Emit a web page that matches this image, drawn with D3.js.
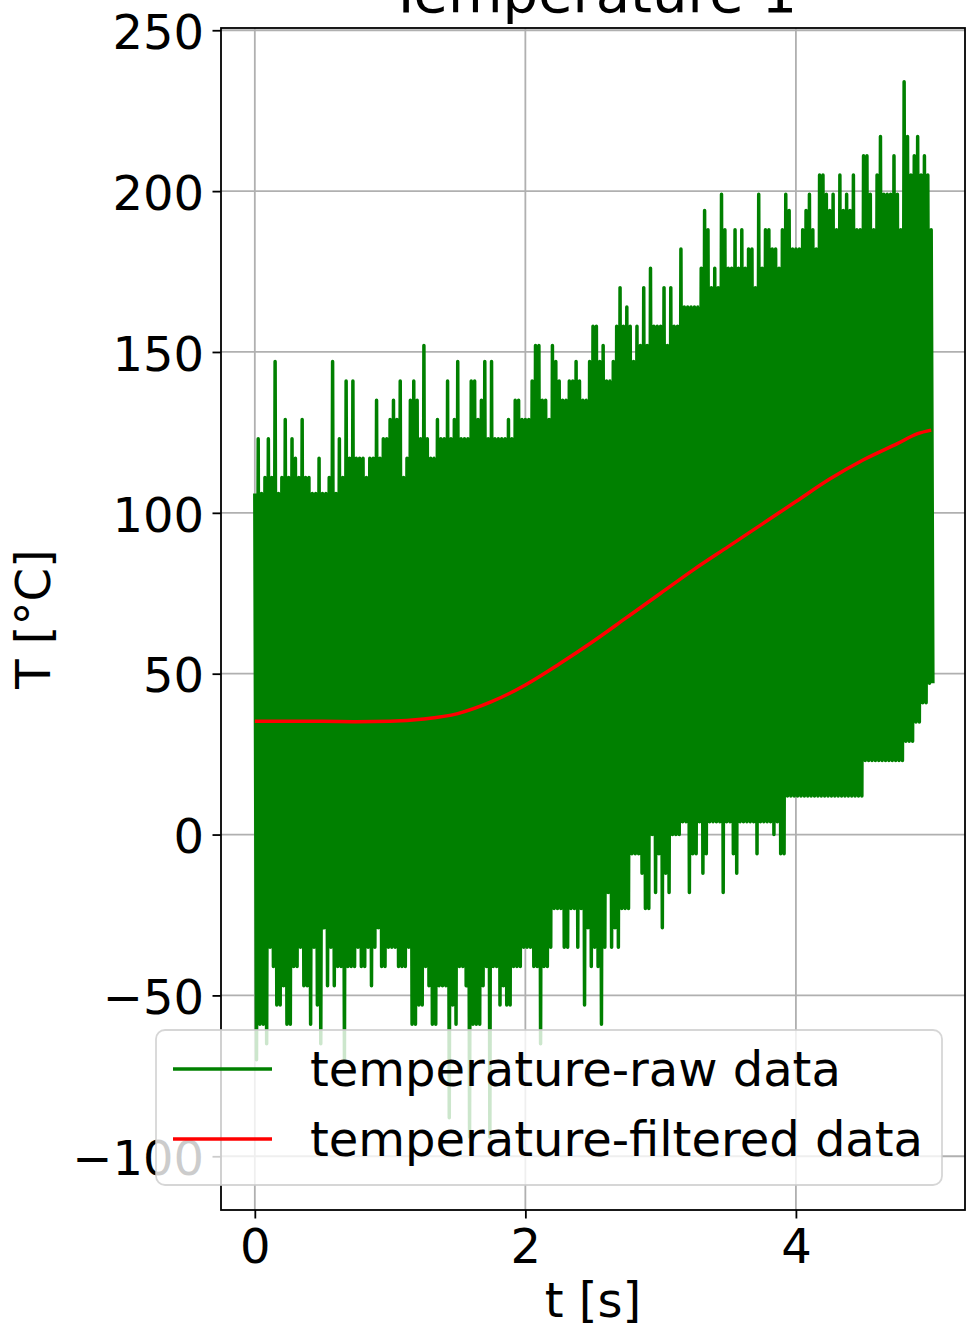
<!DOCTYPE html>
<html>
<head>
<meta charset="utf-8">
<script src="https://cdn.jsdelivr.net/npm/d3@7"></script>
<style>
  html, body { margin: 0; padding: 0; background: #fff; }
  svg text { font-family: "DejaVu Sans", sans-serif; fill: #000; }
</style>
</head>
<body>
<div id="chart"></div>
<script>
// Temperature 1: raw sensor signal (per-bin max / min) and the filtered curve

// raw signal, one bin every 0.025 s, highest and lowest reading in each bin [°C]
const rawBinWidth = 0.025;
const rawHigh = [
  106, 123, 106, 111, 123, 111, 147, 106, 111, 129,
  111, 123, 117, 111, 129, 111, 111, 106, 106, 117,
  106, 106, 111, 147, 106, 123, 111, 141, 117, 141,
  117, 117, 117, 111, 117, 117, 135, 117, 123, 123,
  129, 135, 129, 141, 111, 117, 135, 141, 135, 123,
  152, 123, 117, 117, 129, 123, 123, 141, 123, 129,
  147, 123, 123, 123, 141, 141, 129, 135, 147, 123,
  147, 123, 123, 123, 123, 129, 123, 135, 135, 129,
  129, 129, 141, 152, 152, 135, 135, 129, 152, 147,
  141, 135, 135, 141, 141, 147, 141, 135, 135, 147,
  158, 158, 147, 152, 141, 141, 147, 158, 170, 158,
  164, 158, 147, 158, 152, 170, 152, 176, 158, 158,
  158, 170, 152, 170, 158, 158, 182, 164, 164, 164,
  164, 164, 176, 194, 188, 170, 176, 170, 199, 188,
  176, 176, 188, 176, 188, 176, 182, 182, 170, 199,
  176, 188, 188, 182, 182, 176, 188, 199, 194, 182,
  182, 182, 188, 194, 199, 188, 182, 205, 205, 199,
  194, 199, 188, 205, 194, 199, 194, 205, 188, 188,
  211, 211, 199, 188, 205, 217, 199, 199, 199, 211,
  199, 188, 234, 217, 205, 211, 217, 205, 211, 205,
  188
];
const rawLow = [
  -70, -59, -59, -65, -35, -41, -53, -53, -47, -59,
  -59, -41, -41, -35, -47, -47, -59, -35, -53, -65,
  -29, -47, -35, -47, -41, -41, -70, -41, -41, -41,
  -35, -41, -41, -35, -47, -35, -29, -41, -41, -35,
  -35, -35, -41, -41, -41, -35, -59, -59, -53, -53,
  -41, -47, -59, -59, -47, -47, -47, -88, -53, -59,
  -41, -41, -47, -94, -59, -59, -59, -47, -41, -94,
  -41, -41, -53, -47, -53, -53, -41, -41, -41, -35,
  -35, -35, -41, -41, -65, -41, -41, -35, -23, -23,
  -23, -35, -35, -23, -23, -35, -23, -53, -29, -41,
  -35, -41, -59, -35, -18, -35, -29, -35, -23, -23,
  -23, -6, -6, -6, -12, -23, -23, 0, -18, -6,
  -29, -12, -18, 0, 0, 0, 4, 4, -18, -6,
  -6, 4, -12, -6, 4, 4, 4, 4, -18, 4,
  4, -6, -12, 4, 4, 4, 4, 4, -6, 4,
  4, 4, 4, 0, 4, -6, -6, 12, 12, 12,
  12, 12, 12, 12, 12, 12, 12, 12, 12, 12,
  12, 12, 12, 12, 12, 12, 12, 12, 12, 12,
  23, 23, 23, 23, 23, 23, 23, 23, 23, 23,
  23, 23, 29, 29, 29, 35, 35, 41, 41, 47,
  47
];

// filtered signal [s] / [°C]
const filteredTime = [0, 0.25, 0.5, 0.75, 1, 1.25, 1.5, 1.75, 2, 2.25, 2.5, 2.75,
  3, 3.25, 3.5, 3.75, 4, 4.25, 4.5, 4.75, 4.9, 5];
const filteredTemp = [35.2, 35.2, 35.2, 35.1, 35.2, 35.9, 37.6, 41.3, 46.5, 53, 60, 67.5,
  75, 82.5, 89.5, 96.5, 103.5, 110.5, 116.5, 121.5, 124.6, 125.7];

// axes
const xTicks = [0, 2, 4];
const yTicks = [-100, -50, 0, 50, 100, 150, 200, 250];
const xLimits = [-0.25, 5.25];
const yLimits = [-116.7, 250.7];

const seriesNames = ["temperature-raw data", "temperature-filtered data"];
const seriesColors = ["#008000", "#ff0000"];

const width = 967;
const height = 1332;
const plot = { left: 221, right: 965, top: 28, bottom: 1210 };

const svg = d3.select("#chart")
  .append("svg")
  .attr("width", width)
  .attr("height", height);

const x = d3.scaleLinear().domain(xLimits).range([plot.left, plot.right]);
const y = d3.scaleLinear().domain(yLimits).range([plot.bottom, plot.top]);

svg.append("defs").append("clipPath")
  .attr("id", "plot-clip")
  .append("rect")
  .attr("x", plot.left).attr("y", plot.top)
  .attr("width", plot.right - plot.left)
  .attr("height", plot.bottom - plot.top);

// grid
const grid = svg.append("g").attr("class", "grid");
grid.selectAll(".gx").data(xTicks).enter().append("line")
  .attr("x1", d => x(d)).attr("x2", d => x(d))
  .attr("y1", plot.top).attr("y2", plot.bottom)
  .attr("stroke", "#b0b0b0").attr("stroke-width", 1.8);
grid.selectAll(".gy").data(yTicks).enter().append("line")
  .attr("x1", plot.left).attr("x2", plot.right)
  .attr("y1", d => y(d)).attr("y2", d => y(d))
  .attr("stroke", "#b0b0b0").attr("stroke-width", 1.8);

// raw signal: visit max then min of every bin
const rawPoints = [];
rawHigh.forEach((hi, i) => {
  rawPoints.push([i * rawBinWidth, hi]);
  rawPoints.push([i * rawBinWidth + rawBinWidth / 2, rawLow[i]]);
});

const line = d3.line().x(d => x(d[0])).y(d => y(d[1]));

const data = svg.append("g").attr("clip-path", "url(#plot-clip)");
data.append("path")
  .attr("d", line(rawPoints))
  .attr("fill", "none")
  .attr("stroke", seriesColors[0])
  .attr("stroke-width", 3.5)
  .attr("stroke-linejoin", "round");

const smooth = d3.line()
  .x((d, i) => x(filteredTime[i]))
  .y(d => y(d))
  .curve(d3.curveMonotoneX);

data.append("path")
  .attr("d", smooth(filteredTemp))
  .attr("fill", "none")
  .attr("stroke", seriesColors[1])
  .attr("stroke-width", 3.5)
  .attr("stroke-linejoin", "round");

// frame
svg.append("rect")
  .attr("x", plot.left).attr("y", plot.top)
  .attr("width", plot.right - plot.left)
  .attr("height", plot.bottom - plot.top)
  .attr("fill", "none")
  .attr("stroke", "#000")
  .attr("stroke-width", 1.8);

const fmt = d => (d < 0 ? "\u2212" + Math.abs(d) : String(d));

const yAxis = svg.append("g")
  .attr("transform", `translate(${plot.left},0)`)
  .call(d3.axisLeft(y).tickValues(yTicks).tickSize(8.5).tickSizeOuter(0).tickPadding(8.5).tickFormat(fmt));
const xAxis = svg.append("g")
  .attr("transform", `translate(0,${plot.bottom})`)
  .call(d3.axisBottom(x).tickValues(xTicks).tickSize(8.5).tickSizeOuter(0).tickPadding(8.5).tickFormat(fmt));

[xAxis, yAxis].forEach(ax => {
  ax.select(".domain").remove();
  ax.selectAll(".tick line").attr("stroke", "#000").attr("stroke-width", 1.8);
  ax.selectAll(".tick text")
    .style("font-family", "'DejaVu Sans', sans-serif")
    .style("font-size", "48px")
    .attr("fill", "#000");
});
yAxis.selectAll(".tick text").attr("dy", "0.38em");
xAxis.selectAll(".tick text").attr("dy", "0.76em");

// titles
svg.append("text")
  .attr("x", (plot.left + plot.right) / 2)
  .attr("y", 12)
  .attr("text-anchor", "middle")
  .style("font-size", "56px")
  .text("Temperature 1");

svg.append("text")
  .attr("x", (plot.left + plot.right) / 2)
  .attr("y", 1317)
  .attr("text-anchor", "middle")
  .style("font-size", "48px")
  .text("t [s]");

svg.append("text")
  .attr("transform", `translate(50,${(plot.top + plot.bottom) / 2}) rotate(-90)`)
  .attr("text-anchor", "middle")
  .style("font-size", "48px")
  .text("T [°C]");

// legend
const legend = svg.append("g").attr("class", "legend");
legend.append("rect")
  .attr("x", 156).attr("y", 1030)
  .attr("width", 786).attr("height", 155)
  .attr("rx", 9).attr("ry", 9)
  .attr("fill", "#fff").attr("fill-opacity", 0.8)
  .attr("stroke", "#cccccc").attr("stroke-opacity", 0.8)
  .attr("stroke-width", 1.8);

const items = legend.selectAll(".item")
  .data(seriesNames)
  .enter()
  .append("g")
  .attr("transform", (d, i) => `translate(0,${1069 + i * 70})`);

items.append("line")
  .attr("x1", 173).attr("x2", 272)
  .attr("y1", 0).attr("y2", 0)
  .attr("stroke", (d, i) => seriesColors[i])
  .attr("stroke-width", 3.5);

items.append("text")
  .attr("x", 310)
  .attr("y", 17)
  .style("font-size", "48px")
  .text(d => d);
</script>
</body>
</html>
